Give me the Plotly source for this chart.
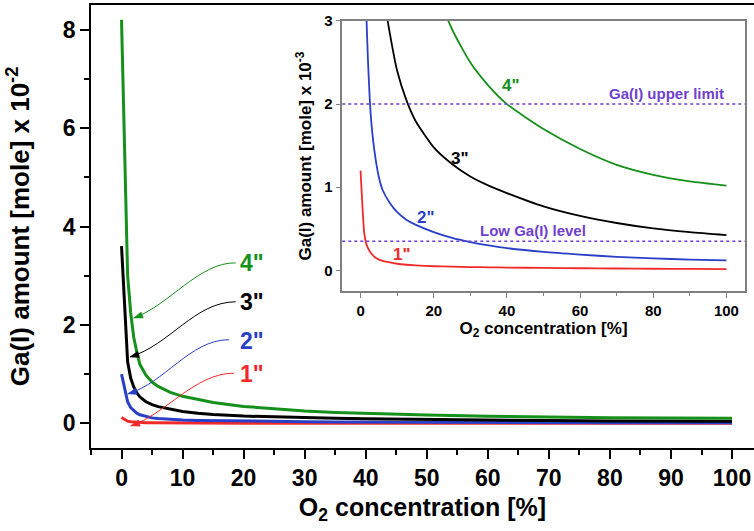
import math
import plotly.graph_objects as go

# ---------------- data ----------------
o2_conc = [0, 1, 1.5, 2, 2.5, 3, 4, 5, 6, 8, 10, 12.5, 15, 20, 25, 30, 35, 40,
           50, 60, 70, 80, 90, 100]
# Ga(I) amount in units of 1e-3 mole
ga_1 = [1.2, 0.45, 0.33, 0.27, 0.23, 0.2, 0.155, 0.13, 0.115, 0.095, 0.08, 0.068,
        0.06, 0.05, 0.045, 0.04, 0.037, 0.034, 0.03, 0.026, 0.023, 0.02, 0.018, 0.015]
ga_2 = [10.0, 4.4, 3.2, 2.55, 2.07, 1.75, 1.37, 1.12, 0.97, 0.81, 0.7, 0.61,
        0.55, 0.46, 0.39, 0.34, 0.3, 0.268, 0.222, 0.19, 0.163, 0.145, 0.13, 0.12]
ga_3 = [36.0, 12.5, 9.2, 7.4, 6.2, 5.4, 4.4, 3.8, 3.4, 2.85, 2.4, 2.05,
        1.8, 1.48, 1.28, 1.13, 1.02, 0.93, 0.77, 0.655, 0.57, 0.505, 0.46, 0.425]
ga_4 = [82.0, 30.0, 22.5, 17.5, 14.5, 12.0, 9.8, 8.4, 7.5, 6.3, 5.5, 4.8,
        4.25, 3.45, 2.9, 2.5, 2.22, 2.0, 1.7, 1.46, 1.27, 1.15, 1.07, 1.02]
series = [ga_1, ga_2, ga_3, ga_4]
names = ['1"', '2"', '3"', '4"']
colors = ['#f02a2a', '#2a3fc8', '#000000', '#15901a']
upper_limit = 2.0
low_level = 0.35

FONT = "Liberation Sans, Arial, sans-serif"
PURPLE = '#6f3fd0'
GRAY = '#808080'

fig = go.Figure()

# main plot (units of 1e-2 mole)
for vals, nm, col in zip(series, names, colors):
    fig.add_trace(go.Scatter(x=o2_conc, y=[v / 10 for v in vals], mode='lines',
                             line=dict(color=col, width=3), name=nm,
                             xaxis='x', yaxis='y', showlegend=False))
# inset (units of 1e-3 mole)
for vals, nm, col in zip(series, names, colors):
    fig.add_trace(go.Scatter(x=o2_conc, y=vals, mode='lines',
                             line=dict(color=col, width=1.8, shape='spline', smoothing=0.6),
                             name=nm, xaxis='x2', yaxis='y2', showlegend=False))

# inset reference levels
for lv in [upper_limit, low_level]:
    fig.add_shape(type='line', xref='x2 domain', yref='y2', x0=0, x1=1, y0=lv, y1=lv,
                  line=dict(color=PURPLE, width=1.5, dash='dot'))

# pixel scale of the main axes (for arrowheads)
PX_X = 663 / 108.6
PX_Y = 443 / 9.0

annots = []
arrow_paths = [
    ((18.4, 1.02), (12.0, 1.02), (7.1, 0.17), (1.5, -0.05)),
    ((17.6, 1.70), (11.2, 1.70), (7.1, 0.82), (1.03, 0.60)),
    ((18.7, 2.47), (12.0, 2.47), (7.9, 1.59), (1.38, 1.35)),
    ((18.7, 3.26), (12.8, 3.28), (7.9, 2.41), (2.0, 2.14)),
]
label_y = [1.0, 1.68, 2.47, 3.26]
for (p0, c1, c2, p1), nm, col, ly in zip(arrow_paths, names, colors, label_y):
    path = f"M {p0[0]},{p0[1]} C {c1[0]},{c1[1]} {c2[0]},{c2[1]} {p1[0]},{p1[1]}"
    fig.add_shape(type='path', xref='x', yref='y', path=path,
                  line=dict(color=col, width=1))
    # arrowhead triangle (computed in screen pixels, converted to data units)
    dxp = (p1[0] - c2[0]) * PX_X
    dyp = -(p1[1] - c2[1]) * PX_Y
    n = math.hypot(dxp, dyp)
    ux, uy = dxp / n, dyp / n
    L, W = 9, 3.2
    bx, by = -L * ux, -L * uy
    pts = [(0, 0), (bx - W * uy, by + W * ux), (bx + W * uy, by - W * ux)]
    tri = "M " + " L ".join(f"{p1[0] + px / PX_X},{p1[1] - py / PX_Y}" for px, py in pts) + " Z"
    fig.add_shape(type='path', xref='x', yref='y', path=tri,
                  fillcolor=col, line=dict(color=col, width=0.5))
    annots.append(dict(x=19.0, y=ly, xref='x', yref='y', text=f'<b>{nm}</b>',
                       showarrow=False, xanchor='left', yanchor='middle',
                       font=dict(family=FONT, size=23, color=col)))

# inset curve labels
inset_lab = [(11.4, 0.19), (17.8, 0.64), (27.3, 1.34), (41.0, 2.22)]
for (lx, ly), nm, col in zip(inset_lab, names, colors):
    annots.append(dict(x=lx, y=ly, xref='x2', yref='y2', text=f'<b>{nm}</b>',
                       showarrow=False, font=dict(family=FONT, size=17, color=col)))
annots.append(dict(x=83.7, y=2.13, xref='x2', yref='y2', text='<b>Ga(I) upper limit</b>',
                   showarrow=False, font=dict(family=FONT, size=15, color=PURPLE)))
annots.append(dict(x=47.2, y=0.48, xref='x2', yref='y2', text='<b>Low Ga(I) level</b>',
                   showarrow=False, font=dict(family=FONT, size=15, color=PURPLE)))

tickfont_main = dict(family=FONT, size=23, color='black', weight='bold')
tickfont_in = dict(family=FONT, size=15, color='black', weight='bold')

fig.update_layout(
    width=754, height=531,
    margin=dict(l=91, r=0, t=5, b=83, autoexpand=False),
    paper_bgcolor='white', plot_bgcolor='white',
    font=dict(family=FONT, color='black'),
    annotations=annots,
    xaxis=dict(range=[-5, 103.6], showgrid=False, zeroline=False, automargin=False,
               showline=True, linecolor='black', linewidth=1.5, mirror=True,
               ticks='outside', ticklen=9, tickwidth=1.5, tickcolor='black',
               tickvals=list(range(0, 101, 10)), tickfont=tickfont_main,
               minor=dict(dtick=5, ticks='outside', ticklen=5, tickwidth=1.5,
                          tickcolor='black', showgrid=False),
               title=dict(text='<b>O<sub>2</sub> concentration [%]</b>',
                          font=dict(family=FONT, size=25), standoff=8)),
    yaxis=dict(range=[-0.5, 8.5], showgrid=False, zeroline=False, automargin=False,
               showline=True, linecolor='black', linewidth=1.5,
               ticks='outside', ticklen=9, tickwidth=1.5, tickcolor='black',
               tickvals=[0, 2, 4, 6, 8], tickfont=tickfont_main,
               minor=dict(dtick=1, ticks='outside', ticklen=5, tickwidth=1.5,
                          tickcolor='black', showgrid=False),
               title=dict(text='<b>Ga(I) amount [mole] x 10<sup>-2</sup></b>',
                          font=dict(family=FONT, size=26), standoff=26)),
    xaxis2=dict(domain=[0.379, 0.986], anchor='y2', range=[-5, 105], automargin=False,
                showgrid=False, zeroline=False, showline=True, linecolor=GRAY,
                linewidth=1.5, mirror=True, ticks='outside', ticklen=5,
                tickwidth=1.2, tickcolor=GRAY, tickvals=list(range(0, 101, 20)),
                tickfont=tickfont_in,
                minor=dict(dtick=10, ticks='outside', ticklen=3, tickwidth=1.2,
                           tickcolor=GRAY, showgrid=False),
                title=dict(text='<b>O<sub>2</sub> concentration [%]</b>',
                           font=dict(family=FONT, size=17), standoff=2)),
    yaxis2=dict(domain=[0.354, 0.964], anchor='x2', range=[-0.25, 3], automargin=False,
                showgrid=False, zeroline=False, showline=True, linecolor=GRAY,
                linewidth=1.5, mirror=True, ticks='outside', ticklen=5,
                tickwidth=1.2, tickcolor=GRAY, tickvals=[0, 1, 2, 3],
                tickfont=tickfont_in,
                title=dict(text='<b>Ga(I) amount [mole] x 10<sup>-3</sup></b>',
                           font=dict(family=FONT, size=17), standoff=8)),
)

fig.write_html("out.html", config={'displayModeBar': False},
               post_script="document.body.style.margin='0';document.body.style.padding='0';")
